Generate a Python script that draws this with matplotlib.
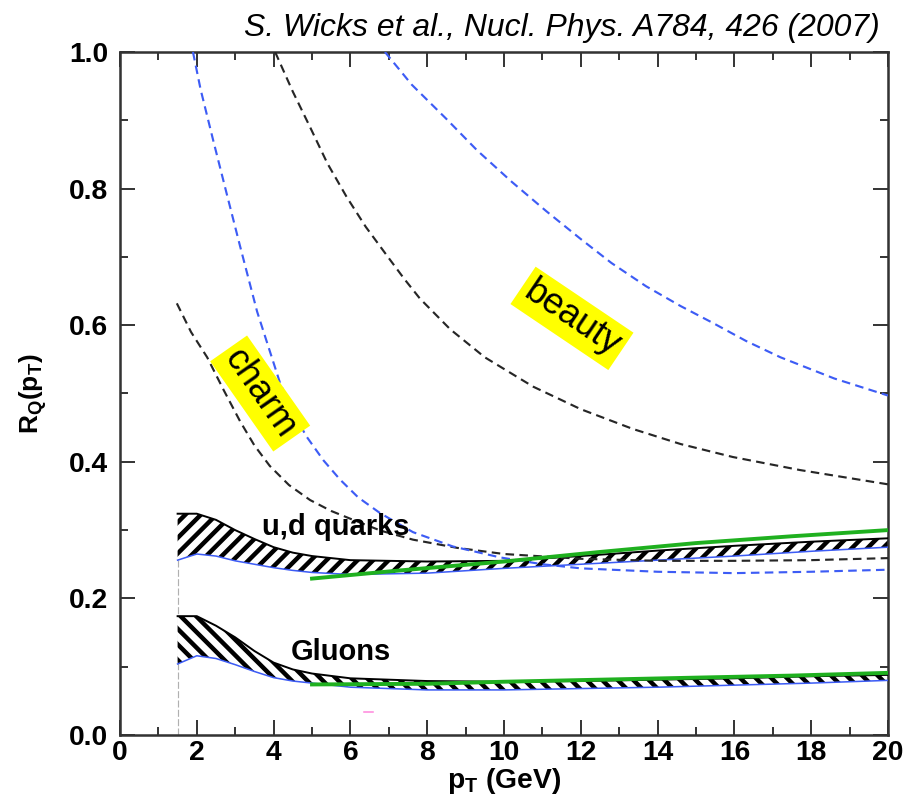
import matplotlib
matplotlib.use("Agg")
import matplotlib.pyplot as plt
from matplotlib.ticker import MultipleLocator, FormatStrFormatter

# hatch spacing scales with dpi, so draw at 140 dpi to get the wide stripes
DPI = 140

plt.rcParams['font.family'] = ['Liberation Sans', 'DejaVu Sans']
plt.rcParams['mathtext.fontset'] = 'custom'
plt.rcParams['mathtext.rm'] = 'Liberation Sans:bold'
plt.rcParams['mathtext.it'] = 'Liberation Sans:italic:bold'
plt.rcParams['mathtext.bf'] = 'Liberation Sans:bold'
plt.rcParams['hatch.linewidth'] = 2.3

# --- bands (light quarks and gluons) ---
band_x = [1.5, 2, 2.5, 3, 3.5, 4, 4.5, 5, 6, 8, 10, 12, 14, 16, 18, 20]
ud_hi = [0.324, 0.324, 0.315, 0.300, 0.287, 0.275, 0.267, 0.262, 0.256, 0.254,
         0.255, 0.262, 0.270, 0.277, 0.283, 0.288]
ud_lo = [0.256, 0.265, 0.262, 0.255, 0.250, 0.245, 0.241, 0.238, 0.235, 0.237,
         0.244, 0.250, 0.256, 0.262, 0.269, 0.275]
glu_hi = [0.174, 0.174, 0.160, 0.143, 0.123, 0.106, 0.096, 0.090, 0.083, 0.079,
          0.078, 0.079, 0.081, 0.083, 0.086, 0.088]
glu_lo = [0.104, 0.116, 0.112, 0.103, 0.093, 0.084, 0.079, 0.076, 0.070, 0.066,
          0.066, 0.068, 0.070, 0.073, 0.076, 0.080]

# --- green curves ---
ud_green_x = [5, 7.3, 10, 12.5, 15, 17.5, 20]
ud_green_y = [0.229, 0.241, 0.254, 0.268, 0.281, 0.291, 0.300]
glu_green_x = [5, 8, 10, 12.5, 15, 17.5, 20]
glu_green_y = [0.074, 0.075, 0.078, 0.081, 0.084, 0.087, 0.091]

# --- heavy quark dashed curves ---
charm_blk_x = [1.48, 1.85, 2.27, 2.7, 3.13, 3.5, 3.9, 4.4, 4.95, 5.5, 6.07, 6.8,
               7.63, 8.78, 10, 12, 14, 16, 18, 20]
charm_blk_y = [0.632, 0.590, 0.553, 0.505, 0.459, 0.424, 0.394, 0.366, 0.344,
               0.328, 0.315, 0.299, 0.286, 0.274, 0.265, 0.258, 0.255, 0.255,
               0.256, 0.259]
charm_blu_x = [1.9, 2.1, 2.43, 2.79, 3.13, 3.57, 4.17, 4.5, 4.87, 5.3, 5.73, 6.2,
               6.77, 7.63, 8.67, 9.9, 11, 12, 14, 16, 18, 20]
charm_blu_y = [1.0, 0.945, 0.870, 0.790, 0.715, 0.620, 0.515, 0.472, 0.436, 0.402,
               0.374, 0.348, 0.325, 0.297, 0.276, 0.260, 0.250, 0.244, 0.239,
               0.237, 0.239, 0.242]
beauty_blk_x = [4.04, 4.5, 4.95, 5.4, 5.9, 6.4, 6.95, 7.4, 7.81, 8.6, 9.5, 10.76,
                12, 13.36, 14.6, 15.96, 17.7, 20]
beauty_blk_y = [1.0, 0.942, 0.890, 0.837, 0.788, 0.744, 0.702, 0.668, 0.639, 0.594,
                0.553, 0.510, 0.477, 0.448, 0.426, 0.407, 0.388, 0.367]
beauty_blu_x = [6.9, 7.6, 8.5, 9.3, 10.2, 11.1, 11.98, 12.8, 13.7, 14.6, 15.45,
                16.3, 17.2, 18.6, 20]
beauty_blu_y = [1.0, 0.952, 0.902, 0.856, 0.810, 0.767, 0.727, 0.691, 0.657, 0.628,
                0.603, 0.577, 0.553, 0.522, 0.497]

BLUE = '#3d5cf5'
DARK = '#262626'
GREEN = '#1fb01f'

fig = plt.figure(figsize=(910 / DPI, 804 / DPI), dpi=DPI)
ax = fig.add_axes([120 / 910, 1 - 735 / 804, 768 / 910, 683 / 804])

# vertical start marker
ax.plot([band_x[0], band_x[0]], [0, ud_lo[0]], color='#b0b0b0', lw=0.6,
        dashes=(6, 2), zorder=1)

# hatched bands
ax.fill_between(band_x, ud_lo, ud_hi, facecolor='white', edgecolor='black',
                hatch='///', linewidth=0, zorder=2)
ax.plot(band_x, ud_hi, color='black', lw=1.0, zorder=3)
ax.plot(band_x, ud_lo, color=BLUE, lw=0.8, zorder=3)
ax.fill_between(band_x, glu_lo, glu_hi, facecolor='white', edgecolor='black',
                hatch='\\\\\\', linewidth=0, zorder=2)
ax.plot(band_x, glu_hi, color='black', lw=1.0, zorder=3)
ax.plot(band_x, glu_lo, color=BLUE, lw=0.8, zorder=3)

# dashed heavy quark curves
dash = (4, 2.5)
ax.plot(charm_blk_x, charm_blk_y, color=DARK, lw=1.1, dashes=dash, zorder=4)
ax.plot(charm_blu_x, charm_blu_y, color=BLUE, lw=1.1, dashes=dash, zorder=4)
ax.plot(beauty_blk_x, beauty_blk_y, color=DARK, lw=1.1, dashes=dash, zorder=4)
ax.plot(beauty_blu_x, beauty_blu_y, color=BLUE, lw=1.1, dashes=dash, zorder=4)

# green curves
ax.plot(ud_green_x, ud_green_y, color=GREEN, lw=2.0, zorder=5)
ax.plot(glu_green_x, glu_green_y, color=GREEN, lw=2.0, zorder=5)

# small stray mark seen in the original
ax.plot([6.35, 6.6], [0.034, 0.034], color='#ff88dd', lw=0.8)

# labels inside the plot
ax.text(5.63, 0.305, 'u,d quarks', fontsize=15, fontweight='bold',
        ha='center', va='center', zorder=6)
ax.text(5.76, 0.122, 'Gluons', fontsize=15, fontweight='bold',
        ha='center', va='center', zorder=6)
ax.text(3.65, 0.50, 'charm', fontsize=18.5, rotation=-55, rotation_mode='anchor',
        ha='center', va='center', zorder=6,
        bbox=dict(facecolor='#ffff00', edgecolor='none', pad=2.5))
ax.text(11.77, 0.61, 'beauty', fontsize=18.5, rotation=-34, rotation_mode='anchor',
        ha='center', va='center', zorder=6,
        bbox=dict(facecolor='#ffff00', edgecolor='none', pad=2.5))

ax.set_xlim(0, 20)
ax.set_ylim(0, 1.0)
ax.xaxis.set_major_locator(MultipleLocator(2))
ax.xaxis.set_minor_locator(MultipleLocator(1))
ax.yaxis.set_major_locator(MultipleLocator(0.2))
ax.yaxis.set_minor_locator(MultipleLocator(0.1))
ax.yaxis.set_major_formatter(FormatStrFormatter('%.1f'))

ax.tick_params(which='both', direction='in', top=True, right=True,
               color='#333333', width=1.0)
ax.tick_params(which='major', length=7.5)
ax.tick_params(which='minor', length=4)
ax.tick_params(axis='x', which='major', pad=2.5)
ax.tick_params(axis='y', which='major', pad=6)
for lab in ax.get_xticklabels() + ax.get_yticklabels():
    lab.set_fontsize(14.5)
    lab.set_fontweight('bold')
for sp in ax.spines.values():
    sp.set_linewidth(1.3)
    sp.set_color('#333333')

ax.set_xlabel(r'$\mathrm{p_T}$ (GeV)', fontsize=14.5, fontweight='bold')
ax.xaxis.set_label_coords(0.5, -0.045)
ax.set_ylabel(r'$\mathrm{R_Q(p_T)}$', fontsize=13.5, fontweight='bold')
ax.yaxis.set_label_coords(-0.093, 0.5)

fig.text(880 / 910, 1 - 28 / 804, 'S. Wicks et al., Nucl. Phys. A784, 426 (2007)',
         fontsize=16.4, fontstyle='italic', ha='right', va='center')

fig.savefig('out.png', dpi=DPI)
